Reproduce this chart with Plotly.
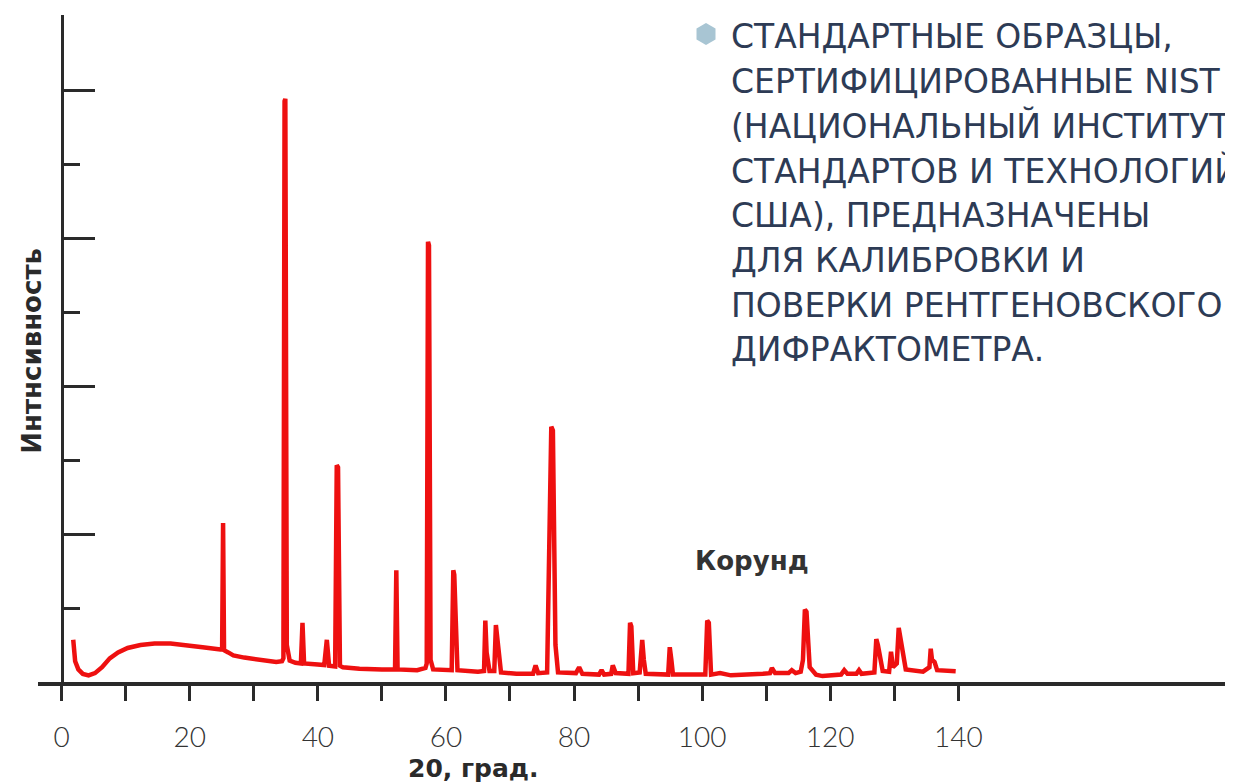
import plotly.graph_objects as go

# ---- data ----
two_theta = [
    1.8, 1.9, 2.1, 2.6, 3.3, 4.2, 5.2, 6.3, 7.5, 8.8, 10.3, 12.3, 14.5, 17.0, 19.5, 22.0, 24.8,
    25.05, 25.2, 25.35,
    26.0, 26.8, 28.5, 31.0, 33.5, 34.4,
    34.62, 34.8, 34.92, 35.15, 35.6,
    36.5, 37.35, 37.6, 37.85, 39.5, 41.0, 41.4, 41.75, 42.7, 42.95, 43.15, 43.45, 43.9,
    46.5, 50.0, 52.05, 52.25, 52.45, 55.5, 56.8,
    57.0, 57.2, 57.35, 57.6, 58.0,
    60.9, 61.15, 61.3, 61.55, 61.8,
    65.0, 65.95, 66.15, 66.35, 66.8, 67.55, 67.8, 68.0, 68.2, 68.6,
    71.0, 73.6, 74.0, 74.4, 75.8, 76.45, 76.7, 76.9, 77.1, 77.5,
    80.3, 80.8, 81.3, 83.9, 84.3, 84.7, 85.8, 86.05, 86.5,
    88.5, 88.75, 88.95, 89.25, 90.25, 90.45, 90.65, 90.9, 91.2,
    94.7, 94.95, 95.2, 95.45,
    100.5, 100.8, 101.05, 101.4, 102.8, 104.5,
    109.5, 110.6, 110.9, 111.4, 113.5, 114.0, 114.6,
    115.4, 115.75, 116.05, 116.3, 116.5, 116.8, 117.8, 118.8,
    121.7, 122.2, 122.7, 124.1, 124.5, 124.9,
    126.9, 127.2, 127.45, 127.7, 128.2, 129.2, 129.5, 129.8, 130.4, 130.7, 130.95, 131.3, 131.8,
    134.5, 135.5, 135.7, 135.9, 136.3, 136.7, 139.6,
]
intensity = [
    0.57, 0.42, 0.28, 0.17, 0.11, 0.09, 0.12, 0.20, 0.32, 0.40, 0.46, 0.50, 0.52, 0.52, 0.50, 0.47, 0.44,
    0.44, 2.15, 0.43,
    0.40, 0.36, 0.33, 0.30, 0.27, 0.28,
    0.32, 7.85, 7.88, 0.50, 0.29,
    0.26, 0.25, 0.80, 0.25, 0.24, 0.23, 0.57, 0.22, 0.21, 2.93, 2.90, 0.22, 0.20,
    0.18, 0.17, 0.17, 1.51, 0.17, 0.16, 0.19,
    0.25, 5.95, 5.90, 0.30, 0.17,
    0.16, 1.51, 1.45, 0.80, 0.16,
    0.14, 0.15, 0.83, 0.40, 0.15, 0.15, 0.77, 0.60, 0.45, 0.13,
    0.11, 0.11, 0.225, 0.12, 0.13, 3.45, 3.40, 1.78, 0.50, 0.13,
    0.12, 0.20, 0.11, 0.10, 0.16, 0.10, 0.11, 0.225, 0.12,
    0.11, 0.80, 0.75, 0.12, 0.13, 0.45, 0.57, 0.30, 0.11,
    0.10, 0.47, 0.30, 0.10,
    0.10, 0.83, 0.80, 0.10, 0.12, 0.09,
    0.11, 0.12, 0.19, 0.12, 0.12, 0.16, 0.12,
    0.14, 0.30, 0.98, 0.95, 0.55, 0.20, 0.10, 0.08,
    0.10, 0.16, 0.11, 0.11, 0.16, 0.11,
    0.13, 0.58, 0.50, 0.36, 0.15, 0.14, 0.41, 0.20, 0.25, 0.73, 0.60, 0.42, 0.17,
    0.14, 0.20, 0.45, 0.30, 0.27, 0.16, 0.145,
]
x_major = [0, 20, 40, 60, 80, 100, 120, 140]
x_labels = ["0", "20", "40", "60", "80", "100", "120", "140"]
x_minor = [10, 30, 50, 70, 90, 110, 130]
y_major = [2, 4, 6, 8]
y_minor = [1, 3, 5, 7]

note_lines = [
    "СТАНДАРТНЫЕ ОБРАЗЦЫ,",
    "СЕРТИФИЦИРОВАННЫЕ NIST",
    "(НАЦИОНАЛЬНЫЙ ИНСТИТУТ",
    "СТАНДАРТОВ И ТЕХНОЛОГИЙ",
    "США), ПРЕДНАЗНАЧЕНЫ",
    "ДЛЯ КАЛИБРОВКИ И",
    "ПОВЕРКИ РЕНТГЕНОВСКОГО",
    "ДИФРАКТОМЕТРА.",
]
sample_name = "Корунд"
x_title = "20, град."
y_title = "Интнсивность"

# ---- geometry helpers (page has an 8px body margin) ----
OFF = 8
W, H = 1233 - OFF, 783 - OFF
ML, MR, MT, MB = 38 - OFF, 0, 15 - OFF, 101
PW, PH = W - ML - MR, H - MT - MB
AX = "#2a2a2a"


def px(xp):
    # page pixel x -> paper fraction
    return (xp - OFF - ML) / PW


def py(yp):
    # page pixel y -> paper fraction
    return (H - MB - (yp - OFF)) / PH


fig = go.Figure()
fig.add_trace(go.Scatter(
    x=two_theta, y=intensity, mode="lines",
    line=dict(color="#ee1010", width=4.5),
    hoverinfo="skip", showlegend=False,
))

xr = [(38 - 61.7) / 6.404, (1233 - 61.7) / 6.404]
yr = [0, PH / 74.0]

fig.update_layout(
    width=W, height=H,
    margin=dict(l=ML, r=MR, t=MT, b=MB),
    paper_bgcolor="white", plot_bgcolor="white",
    showlegend=False,
    xaxis=dict(
        range=xr, showgrid=False, zeroline=False,
        showline=True, linecolor=AX, linewidth=3.5,
        ticks="outside", tickvals=x_major, ticktext=x_labels,
        ticklen=15, tickwidth=3, tickcolor=AX,
        minor=dict(tickvals=x_minor, ticks="outside", ticklen=15, tickwidth=3, tickcolor=AX),
        tickfont=dict(family="Lato", size=28, color="#333333", weight=300),
        ticklabelstandoff=13,
    ),
    xaxis2=dict(
        range=xr, overlaying="x", anchor="y", side="bottom",
        showgrid=False, zeroline=False, showline=False,
        ticks="outside", tickvals=x_major[1:], ticklen=31, tickwidth=3, tickcolor=AX,
        showticklabels=False,
    ),
    yaxis=dict(
        range=yr, anchor="free", position=px(61.7),
        showgrid=False, zeroline=False,
        showline=True, linecolor=AX, linewidth=3,
        ticks="inside", tickvals=y_major, ticklen=31, tickwidth=3, tickcolor=AX,
        minor=dict(tickvals=y_minor, ticks="inside", ticklen=16, tickwidth=3, tickcolor=AX),
        showticklabels=False,
    ),
)

ann = []
ann.append(dict(text=y_title, x=px(31.7), y=py(351), xref="paper", yref="paper",
                textangle=-90, showarrow=False, xanchor="center", yanchor="middle",
                font=dict(family="DejaVu Sans", size=26, color=AX, weight="bold")))
ann.append(dict(text=x_title, x=px(473), y=py(769), xref="paper", yref="paper",
                showarrow=False, xanchor="center", yanchor="middle",
                font=dict(family="DejaVu Sans", size=25, color=AX, weight="bold")))
ann.append(dict(text=sample_name, x=px(752), y=py(561), xref="paper", yref="paper",
                showarrow=False, xanchor="center", yanchor="middle",
                font=dict(family="DejaVu Sans", size=26, color="#333333", weight="bold")))
for i, line in enumerate(note_lines):
    ann.append(dict(text=line, x=px(729), y=py(37 + 44.7 * i), xref="paper", yref="paper",
                    showarrow=False, xanchor="left", yanchor="middle",
                    font=dict(family="DejaVu Sans", size=33, color="#2d3b55")))
fig.update_layout(annotations=ann)

# hexagon bullet
cx, cy, r = 706, 34, 11
hx = [cx, cx + 9.5, cx + 9.5, cx, cx - 9.5, cx - 9.5]
hy = [cy - r, cy - r / 2, cy + r / 2, cy + r, cy + r / 2, cy - r / 2]
path = "M " + " L ".join(f"{px(a):.5f},{py(b):.5f}" for a, b in zip(hx, hy)) + " Z"
fig.add_shape(type="path", path=path, xref="paper", yref="paper",
              fillcolor="#a8c5d3", line=dict(width=0))

fig.write_html("out.html")
